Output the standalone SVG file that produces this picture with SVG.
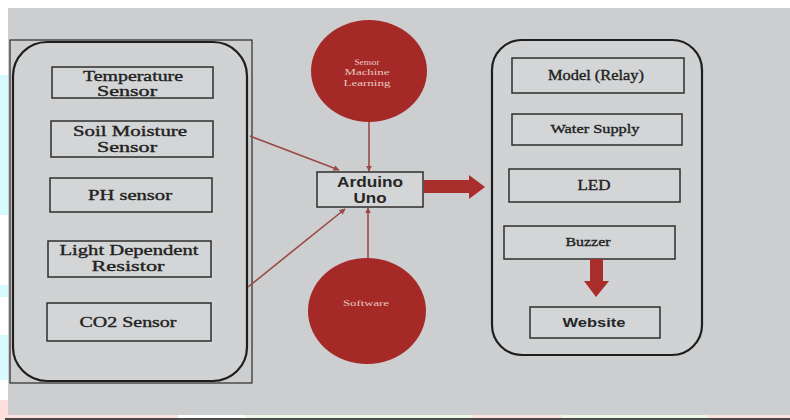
<svg xmlns="http://www.w3.org/2000/svg" width="790" height="420" viewBox="0 0 790 420">
<defs>
<style>
.box{fill:#d3d5d6;stroke:#2e2e2e;stroke-width:1.5}
.frame{fill:none;stroke:#2a2a2a;stroke-width:1.2}
.cont{fill:#d0d2d3;stroke:#1e1e1e;stroke-width:2.2}
.serif{font-family:"Liberation Serif","DejaVu Serif",serif;fill:#222;stroke:#222;stroke-width:0.35;text-anchor:middle}
.sans{font-family:"Liberation Sans",Arial,sans-serif;fill:#262626;font-weight:bold;text-anchor:middle}
.circ{fill:#a52a27}
.ctext{font-family:"Liberation Serif",serif;fill:#e8c9c4;font-size:9px;text-anchor:middle}
.conn{stroke:#9a4a45;stroke-width:1.6;fill:none}
.big{fill:#a82d2b}
</style>
<marker id="ah" viewBox="0 0 10 10" refX="9" refY="5" markerWidth="6" markerHeight="6" orient="auto" markerUnits="userSpaceOnUse">
<path d="M0,0 L10,5 L0,10 z" fill="#9a4a45"/>
</marker>
</defs>
<rect x="0" y="0" width="790" height="420" fill="#ffffff"/>
<g id="margin">
<rect x="0" y="75" width="8" height="140" fill="#d6fafd"/>
<rect x="0" y="285" width="8" height="12" fill="#d6fafd"/>
<rect x="0" y="335" width="8" height="45" fill="#d6fafd"/>
<rect x="0" y="400" width="8" height="20" fill="#fde0de"/>
<rect x="8" y="414" width="170" height="5" fill="#fde3e0"/>
<rect x="245" y="414" width="600" height="5" fill="#eef8e6"/>
<rect x="472" y="414" width="90" height="5" fill="#fde3e0"/>
<rect x="708" y="414" width="82" height="5" fill="#fde3e0"/>
</g>
<rect x="8" y="8" width="782" height="407" fill="#ccced0"/>
<line x1="5" y1="419" x2="790" y2="419" stroke="#111" stroke-width="1.5"/>

<g id="sensors">
<rect class="frame" x="10" y="40" width="242" height="343"/>
<rect class="cont" x="13" y="42" width="234" height="339" rx="34" ry="34"/>
</g>
<g id="temperature">
<rect class="box" x="52" y="67" width="161" height="31"/>
<text class="serif" x="133" y="81" font-size="14" textLength="100" lengthAdjust="spacingAndGlyphs">Temperature</text>
<text class="serif" x="127" y="96" font-size="14" textLength="60" lengthAdjust="spacingAndGlyphs">Sensor</text>
</g>
<g id="soil">
<rect class="box" x="51" y="121" width="162" height="36"/>
<text class="serif" x="130" y="136" font-size="14" textLength="114" lengthAdjust="spacingAndGlyphs">Soil Moisture</text>
<text class="serif" x="127" y="152" font-size="14" textLength="60" lengthAdjust="spacingAndGlyphs">Sensor</text>
</g>
<g id="ph">
<rect class="box" x="50" y="178" width="162" height="34"/>
<text class="serif" x="130" y="200" font-size="14" textLength="84" lengthAdjust="spacingAndGlyphs">PH sensor</text>
</g>
<g id="ldr">
<rect class="box" x="48" y="241" width="163" height="36"/>
<text class="serif" x="129" y="255" font-size="14" textLength="139" lengthAdjust="spacingAndGlyphs">Light Dependent</text>
<text class="serif" x="128" y="271" font-size="14" textLength="73" lengthAdjust="spacingAndGlyphs">Resistor</text>
</g>
<g id="co2">
<rect class="box" x="47" y="303" width="164" height="38"/>
<text class="serif" x="128" y="327" font-size="14" textLength="97" lengthAdjust="spacingAndGlyphs">CO2 Sensor</text>
</g>

<g id="ml">
<ellipse class="circ" cx="369" cy="71" rx="58" ry="51"/>
<text class="ctext" x="367" y="65" textLength="25" lengthAdjust="spacingAndGlyphs">Sensor</text>
<text class="ctext" x="367" y="75" textLength="45" lengthAdjust="spacingAndGlyphs">Machine</text>
<text class="ctext" x="367" y="86" textLength="47" lengthAdjust="spacingAndGlyphs">Learning</text>
</g>
<g id="software">
<ellipse class="circ" cx="367" cy="311" rx="59" ry="53"/>
<text class="ctext" x="366" y="306" textLength="46" lengthAdjust="spacingAndGlyphs">Software</text>
</g>
<g id="arduino">
<rect class="box" x="317" y="172" width="106" height="35"/>
<text class="sans" x="370" y="187" font-size="14" textLength="66" lengthAdjust="spacingAndGlyphs">Arduino</text>
<text class="sans" x="370" y="203" font-size="14" textLength="33" lengthAdjust="spacingAndGlyphs">Uno</text>
</g>

<g id="outputs">
<rect class="cont" x="492" y="40" width="210" height="315" rx="30" ry="30" stroke-width="1.6"/>
</g>
<g id="relay">
<rect class="box" x="512" y="58" width="172" height="35"/>
<text class="serif" x="596" y="80" font-size="14" textLength="96" lengthAdjust="spacingAndGlyphs">Model (Relay)</text>
</g>
<g id="water">
<rect class="box" x="512" y="114" width="170" height="31"/>
<text class="serif" x="595" y="133" font-size="13" textLength="89" lengthAdjust="spacingAndGlyphs">Water Supply</text>
</g>
<g id="led">
<rect class="box" x="509" y="169" width="171" height="33"/>
<text class="serif" x="594" y="190" font-size="14" textLength="33" lengthAdjust="spacingAndGlyphs">LED</text>
</g>
<g id="buzzer">
<rect class="box" x="504" y="226" width="171" height="33"/>
<text class="serif" x="588" y="246" font-size="13" textLength="45" lengthAdjust="spacingAndGlyphs">Buzzer</text>
</g>
<g id="website">
<rect class="box" x="530" y="307" width="130" height="31"/>
<text class="sans" x="594" y="327" font-size="13" textLength="63" lengthAdjust="spacingAndGlyphs">Website</text>
</g>

<g id="connectors">
<line class="conn" x1="250" y1="136" x2="339" y2="170" marker-end="url(#ah)"/>
<line class="conn" x1="248" y1="287" x2="345" y2="209" marker-end="url(#ah)"/>
<line class="conn" x1="369" y1="122" x2="369" y2="171" marker-end="url(#ah)"/>
<line class="conn" x1="368" y1="258" x2="368" y2="208" marker-end="url(#ah)"/>
<path class="big" d="M424,180 L469,180 L469,175 L485,187 L469,199 L469,193 L424,193 z"/>
<path class="big" d="M590,259 L603,259 L603,281 L609,281 L596,297 L584,281 L590,281 z"/>
</g>
</svg>
